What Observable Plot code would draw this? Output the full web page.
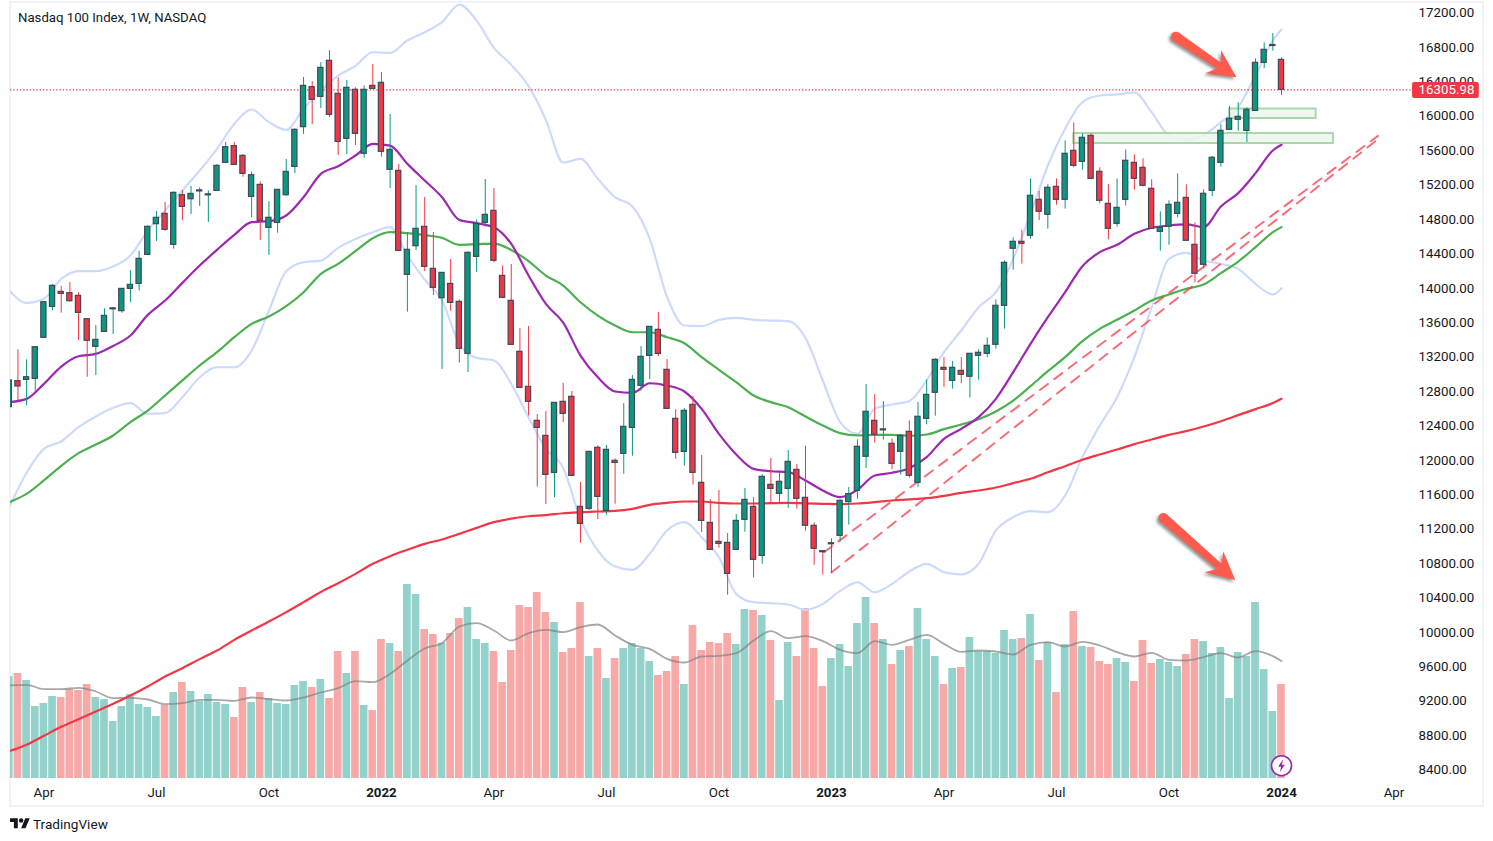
<!DOCTYPE html>
<html>
<head>
<meta charset="utf-8">
<script src="https://cdn.jsdelivr.net/npm/d3@7"></script>
<script src="https://cdn.jsdelivr.net/npm/@observablehq/plot@0.6"></script>
<style>
html,body{margin:0;padding:0;background:#fff;overflow:hidden}
#chart{position:relative;width:1493px;height:841px;font-family:Roboto,"Noto Sans",sans-serif;color:#131722}
#chart svg{position:absolute;left:0;top:0;background:transparent;overflow:visible}
#border{position:absolute;left:9px;top:1px;width:1471px;height:802px;border:2px solid #f0f3fa}
#title{position:absolute;left:18px;top:10px;font-size:13.2px;line-height:16px;white-space:nowrap}
#brand{position:absolute;left:10px;top:815px;height:18px;display:flex;align-items:center;gap:3px;font-size:13.6px;white-space:nowrap}
</style>
</head>
<body>
<div id="chart">
  <div id="border"></div>
  <div id="title">Nasdaq 100 Index, 1W, NASDAQ</div>
  <div id="brand"><svg style="position:static" width="20" height="15.5" viewBox="0 0 36 28"><path d="M14 22H7V11H0V4h14v18zM28 22h-8l7.5-18h8L28 22z" fill="#131722"/><circle cx="20" cy="8" r="4" fill="#131722"/></svg><span>TradingView</span></div>
</div>
<script>
// ---------- Weekly candles (first week 2021-03-08, last week 2024-01-01)
const open = [12618,12920,12935,12947,13424,13784,13958,13943,13912,13641,13319,13493,13755,13734,13993,14051,14388,14745,14865,14505,15082,15035,15126,15080,15132,15458,15652,15539,15063,15202,14702,14760,15082,15411,15873,16338,16225,16644,16260,15737,16307,15563,16353,16388,15377,15365,14156,14489,14714,14226,13885,14051,13842,13237,14365,14760,14900,14144,13854,13261,12854,12459,12284,11854,12680,12738,11459,11436,12145,11412,11994,12075,12377,12866,13214,13517,13052,12482,12098,12645,11738,11273,11052,11040,10959,11308,11459,10889,11715,11610,11668,11889,11564,11239,10944,11024,11122,11514,11645,12041,12459,12348,12192,12099,12331,11738,12482,12785,13075,12924,13040,12971,13215,13238,13343,13796,14459,14540,14610,15028,14854,15179,15028,15598,15470,15772,15354,14982,14749,15028,15458,15400,15156,14656,14714,14865,15051,14505,14273,15133,15458,15842,15958,15830,16062,16621,16816,16655];
const high = [12940,13284,13168,13315,13838,14044,14020,14067,13947,13641,13567,13761,13772,13993,14206,14431,14726,14892,14997,15121,15136,15183,15167,15132,15439,15694,15694,15555,15353,15237,15008,15144,15497,15853,16450,16403,16624,16764,16446,16415,16330,16353,16601,16508,16020,15439,14640,15194,15055,14648,14179,14334,13865,14423,14795,15264,15160,14261,14276,13532,13555,12532,12567,12668,12893,12800,11742,12098,12168,12172,12017,12660,12986,13323,13551,13718,13172,12590,12602,12742,12056,11544,11649,11149,11370,11672,11567,11831,12021,11854,12114,11951,12164,11273,10944,11087,11541,11684,12238,12882,12765,12684,12250,12296,12459,12672,12936,13180,13195,13149,13195,13238,13285,13424,13866,14319,14586,14672,15272,15125,15203,15272,15714,15923,15795,15795,15400,15206,15272,15610,15551,15505,15261,14889,15017,15331,15203,14761,15145,15532,15900,16113,16156,16098,16667,16853,16961,16679];
const low = [12600,12695,12633,12792,13424,13741,13710,13838,13393,12966,12986,13493,13462,13710,13834,13966,14388,14543,14664,14454,14788,14857,14950,14764,15132,15458,15435,15291,14819,14555,14381,14640,15067,15334,15787,15903,16090,15985,15543,15555,15659,15512,16307,15524,15160,14435,13722,14439,14195,13916,13055,13730,13129,13021,14183,14710,14299,13889,13342,12842,12517,11687,11486,11567,12439,11819,11037,11416,11312,11362,11490,11839,12048,12804,12939,13207,12598,12013,11932,11711,11161,10959,10978,10432,10959,11164,10630,10792,11505,11494,11443,11432,11176,10781,10665,10688,11049,11246,11548,11905,12199,12234,11893,11827,11793,11688,12413,12513,12847,12827,12893,12723,12932,13192,13292,13525,14211,14280,14571,14788,14687,14966,14920,15400,15373,15261,14982,14563,14710,14955,15141,15179,14691,14431,14501,14819,14552,14063,14226,15067,15408,15842,15823,15695,16062,16555,16756,16241];
const close = [12928,12858,12966,13315,13838,14028,13935,13850,13714,13389,13400,13679,13767,13993,14040,14342,14714,14819,14679,15109,14946,15097,15138,15092,15423,15640,15435,15330,15315,14784,14819,15144,15353,15842,16353,16190,16562,16016,15702,16330,15795,16307,16318,15586,15609,14435,14447,14691,14249,14005,14179,13830,13296,14412,14749,14853,14319,13889,13342,12842,12680,12377,11831,12668,12540,11819,11261,12098,11575,12122,11970,12389,12935,13203,13551,13237,12598,12087,12575,11854,11296,10959,11029,10680,11296,11540,10843,11808,11668,11750,11982,11552,11239,10971,10932,11036,11529,11607,12157,12564,12296,12360,11959,12285,11820,12506,12761,13168,13052,13075,12994,13238,13250,13331,13796,14296,14540,14517,15075,14889,15168,15028,15563,15423,15749,15272,15017,14691,14935,15482,15272,15191,14691,14703,14970,14993,14552,14168,15098,15517,15830,15970,15993,16075,16621,16772,16828,16305.98];
// Volume in billions of shares
const volume = [3.06,3.15,2.94,2.16,2.25,2.46,2.43,2.67,2.64,2.82,2.43,2.37,1.71,2.16,2.52,2.22,2.13,1.86,2.19,2.58,2.88,2.61,2.31,2.52,2.28,2.22,1.83,2.73,2.28,2.58,2.40,2.25,2.22,2.79,2.91,2.73,2.97,2.40,3.81,3.15,3.81,2.19,2.04,4.17,4.05,3.81,5.82,5.52,4.47,4.32,4.06,4.35,4.80,5.13,4.17,4.05,3.81,2.88,3.84,5.19,5.13,5.58,4.98,4.68,3.78,3.90,5.28,3.66,3.90,3.00,3.60,3.90,4.05,3.90,3.51,3.09,3.21,3.66,2.82,4.59,3.84,4.08,4.05,4.35,4.02,5.07,5.04,4.89,4.14,2.34,4.08,3.66,5.10,3.90,2.76,3.60,4.02,3.36,4.65,5.43,4.65,4.17,3.42,3.84,3.96,5.10,4.17,3.66,2.82,3.30,3.33,4.23,3.81,3.81,3.75,4.44,4.17,4.20,4.92,3.54,4.08,2.58,4.02,5.01,3.96,3.93,3.51,3.42,3.60,3.48,2.91,4.14,3.45,3.57,3.48,3.36,3.72,4.17,4.11,3.75,3.93,2.40,3.78,3.66,5.28,3.27,2.01,2.82];
// Indicator readings, one for every second week plus the last week
const volumeMA = [2.79,2.81,2.68,2.68,2.72,2.61,2.41,2.42,2.37,2.23,2.26,2.36,2.36,2.33,2.43,2.38,2.34,2.43,2.58,2.71,2.92,2.89,3.14,3.54,3.90,4.06,4.56,4.66,4.44,4.14,4.36,4.46,4.39,4.54,4.62,4.29,4.01,3.89,3.59,3.48,3.66,3.68,3.76,4.14,4.42,4.21,4.27,4.12,3.86,3.76,4.12,4.01,4.16,4.31,4.04,3.80,3.84,3.81,3.72,4.01,4.09,3.96,4.10,3.99,3.79,3.66,3.77,3.56,3.54,3.64,3.76,3.63,3.82,3.67,3.52];
const ema20 = [12676,12714,12889,13090,13210,13237,13330,13451,13691,13858,14063,14264,14447,14621,14768,14780,14846,15059,15330,15419,15543,15679,15659,15446,15253,15059,14795,14757,14710,14516,14148,13819,13600,13218,12966,12800,12784,12896,12869,12800,12598,12307,12067,11901,11873,11862,11765,11649,11572,11657,11824,11855,11909,12037,12250,12366,12502,12715,13025,13354,13664,13955,14257,14420,14505,14633,14703,14730,14742,14711,14951,15106,15338,15602,15668];
const ema50 = [11514,11610,11766,11936,12083,12184,12289,12444,12579,12754,12930,13102,13257,13431,13586,13672,13792,13954,14167,14284,14431,14582,14652,14640,14617,14586,14505,14512,14520,14446,14315,14148,14032,13838,13683,13567,13489,13489,13431,13361,13199,13052,12908,12753,12676,12617,12509,12405,12316,12289,12296,12296,12285,12300,12362,12416,12478,12568,12695,12862,13036,13199,13385,13528,13633,13742,13858,13928,13994,14044,14176,14311,14478,14652,14711];
const ema200 = [8619,8693,8797,8902,8991,9080,9169,9266,9371,9487,9584,9689,9789,9913,10022,10126,10235,10351,10470,10572,10680,10797,10886,10960,11029,11080,11145,11215,11281,11323,11350,11362,11385,11397,11405,11412,11436,11482,11505,11521,11521,11505,11498,11498,11502,11505,11500,11494,11490,11498,11514,11533,11545,11560,11587,11622,11649,11684,11735,11785,11862,11932,12006,12068,12126,12188,12242,12296,12339,12393,12455,12525,12595,12665,12715];
const bbUpper = [13974,13830,13877,14109,14199,14199,14253,14381,14671,14904,15136,15369,15621,15911,16078,15931,15841,16086,16299,16473,16585,16744,16737,16880,16977,17093,17298,17112,16795,16597,16349,15958,15462,15504,15272,15059,14950,14574,13900,13567,13559,13633,13656,13633,13625,13617,13420,12928,12444,12308,12599,12649,12688,12928,13257,13509,13780,13955,14342,14865,15427,15854,16164,16241,16253,16276,16047,15776,15729,15783,15931,16105,16473,16880,17008];
const bbLower = [11456,11855,12134,12219,12386,12510,12610,12664,12540,12548,12734,12966,13082,13082,13276,13741,14199,14303,14322,14470,14574,14652,14710,14381,14100,13858,13354,13191,13160,12889,12501,12133,11912,11319,10951,10765,10727,10913,11184,11281,11106,10874,10445,10351,10339,10324,10262,10331,10482,10582,10467,10564,10708,10797,10700,10673,10797,11184,11339,11409,11397,11591,12037,12405,12734,13199,13780,14342,14412,14323,14284,14226,14052,13928,14001];
// Axis labels
const priceTicks = d3.range(8400, 17600, 400);
const monthTicks = ["2021-04-05","2021-07-05","2021-10-04","2022-04-04","2022-07-04","2022-10-03","2023-04-03","2023-07-03","2023-10-02","2024-04-01"];
const yearTicks = ["2022-01-03","2023-01-02","2024-01-01"];
const lastPrice = 16305.98;
// Drawn annotations on the chart, in date and price terms
const zones = [
  {from:"2023-07-17", to:"2024-02-12", top:15799, bottom:15683},
  {from:"2023-11-20", to:"2024-01-29", top:16084, bottom:15974}
];
const trendUpper = [["2022-12-27",10932],["2024-03-19",15772]];
const trendLower = [["2023-01-02",10696],["2024-03-19",15733]];
const arrows = [
  {x1:"2023-10-08", y1:16919, x2:"2023-11-26", y2:16447},
  {x1:"2023-09-28", y1:11323, x2:"2023-11-25", y2:10602}
];

// ---------- Tables
const D = s => new Date(s + "T00:00:00Z");
const firstWeek = D("2021-03-08"), lastWeek = D("2024-01-01");
const weeks = d3.utcMonday.range(firstWeek, d3.utcDay.offset(lastWeek, 1));
const rows = weeks.map((date, i) => ({date, open:open[i], high:high[i], low:low[i], close:close[i], volume:volume[i], up: close[i] >= open[i]}));
const sparseWeeks = [...d3.range(0, 148, 2), 147].map(i => weeks[i]);
const series = values => values.map((v, i) => ({date: sparseWeeks[i], v}));
const ups = rows.filter(d => d.up), downs = rows.filter(d => !d.up);

const GREEN = "#089981", RED = "#f23645", OUT = "#434859";
const VOL_G = "#93d2cb", VOL_R = "#f7a9a8";
const body = 2.1, volBar = 3.1; // half widths in days
const xScale = {type:"utc", domain:[firstWeek, lastWeek], range:[8.8, 1281]};
const frameMargins = {marginLeft:10, marginRight:81, marginTop:3, marginBottom:63};
const font = {fontFamily:"Roboto, 'Noto Sans', sans-serif", fontSize:"13.3px", color:"#131722", background:"transparent"};

// ---------- Volume pane
const volRect = (data, fill) => Plot.rect(data, {
  x1: d => d3.utcHour.offset(d.date, -volBar*24), x2: d => d3.utcHour.offset(d.date, volBar*24),
  y1: 0, y2: "volume", fill, clip:true
});
const volPlot = Plot.plot({
  width:1493, height:841, ...frameMargins, style:font,
  x:{...xScale, axis:null},
  y:{domain:[0,5.82], range:[778,584], axis:null},
  marks:[
    volRect(ups, VOL_G), volRect(downs, VOL_R),
    Plot.line(series(volumeMA), {x:"date", y:"v", stroke:"#7f7f7f", strokeOpacity:.68, strokeWidth:1.8, curve:"monotone-x", clip:true})
  ]
});

// ---------- Arrows with a drop shadow
function arrowMark(items) {
  return (index, {x, y}) => {
    const g = d3.create("svg:g").style("filter","drop-shadow(-1.5px 2px 1.5px rgba(60,60,60,.55))");
    for (const a of items) {
      const p = [x(D(a.x1)), y(a.y1)], q = [x(D(a.x2)), y(a.y2)];
      const L = Math.hypot(q[0]-p[0], q[1]-p[1]);
      const u = [(q[0]-p[0])/L, (q[1]-p[1])/L], n = [-u[1], u[0]];
      const pt = (along, across) => [q[0]+u[0]*along+n[0]*across, q[1]+u[1]*along+n[1]*across];
      const poly = [pt(-L,-5), pt(-21,-3.4), pt(-28,-14), q, pt(-28,14), pt(-21,3.4), pt(-L,5)];
      g.append("path").attr("d", "M" + poly.map(c => c.join(",")).join("L") + "Z").attr("fill","#ff5a4c");
      g.append("circle").attr("cx",p[0]).attr("cy",p[1]).attr("r",5).attr("fill","#ff5a4c");
    }
    return g.node();
  };
}
const bolt = {draw(c){ c.moveTo(1.6,-6.4); c.lineTo(-3.4,1); c.lineTo(-.4,1); c.lineTo(-1.6,6.4); c.lineTo(3.4,-1); c.lineTo(.4,-1); c.closePath(); }};

// ---------- Candle helpers
const bodyRect = (data, fill) => Plot.rect(data, {
  x1: d => d3.utcHour.offset(d.date, -body*24), x2: d => d3.utcHour.offset(d.date, body*24),
  y1:"open", y2:"close", fill, stroke:OUT, strokeWidth:1.2, clip:true
});
const wick = (data, stroke) => Plot.ruleX(data, {x:"date", y1:"low", y2:"high", stroke, strokeWidth:1, clip:true});
const pl = (values, stroke) => Plot.line(series(values), {x:"date", y:"v", stroke, strokeWidth:2.2, curve:"monotone-x", clip:true});
const trend = pts => Plot.line(pts.map(([d,v]) => ({date:D(d), v})), {x:"date", y:"v", stroke:RED, strokeOpacity:.72, strokeWidth:2, strokeDasharray:"10 8"});

// ---------- Price pane
const mainPlot = Plot.plot({
  width:1493, height:841, ...frameMargins, style:font,
  x:xScale,
  y:{domain:[8400,17200], range:[769.5,12.5]},
  marks:[
    pl(bbUpper, "#cddafb"), pl(bbLower, "#cddafb"),
    pl(ema200, RED), pl(ema50, "#4caf50"), pl(ema20, "#9c27b0"),
    trend(trendUpper), trend(trendLower),
    Plot.rect(zones, {x1:d=>D(d.from), x2:d=>D(d.to), y1:"bottom", y2:"top", fill:"#edf6ee", fillOpacity:.85, stroke:"#a8d8ab", strokeWidth:2}),
    Plot.ruleY([lastPrice], {stroke:"#f23645", strokeWidth:1.3, strokeDasharray:"1.3 2"}),
    wick(ups, GREEN), wick(downs, RED),
    bodyRect(ups, GREEN), bodyRect(downs, RED),
    arrowMark(arrows),
    Plot.dot([{date:lastWeek, v:8450}], {x:"date", y:"v", r:10, fill:"#fff", stroke:"#9c27b0", strokeWidth:1.6}),
    Plot.dot([{date:lastWeek, v:8450}], {x:"date", y:"v", symbol:bolt, fill:"#9c27b0", stroke:"none"}),
    Plot.axisY(priceTicks, {anchor:"right", tickSize:0, tickPadding:6, label:null, tickFormat:d3.format(".2f"), fill:"#131722"}),
    Plot.axisX(monthTicks.map(D), {anchor:"bottom", tickSize:0, tickPadding:9, label:null, tickFormat:d3.utcFormat("%b"), fill:"#131722"}),
    Plot.axisX(yearTicks.map(D), {anchor:"bottom", tickSize:0, tickPadding:9, label:null, tickFormat:d3.utcFormat("%Y"), fontWeight:"bold", fill:"#131722"}),
    Plot.rect([lastPrice], {x1:()=>D("2024-04-16"), x2:()=>D("2024-06-09"), y1:()=>16206, y2:()=>16392, fill:RED, rx:2}),
    Plot.text([lastPrice], {x:()=>D("2024-04-16"), y:d=>d, text:d=>d.toFixed(2), fill:"#fff", textAnchor:"start", dx:6})
  ]
});
const root = document.getElementById("chart");
root.insertBefore(volPlot, document.getElementById("title"));
root.insertBefore(mainPlot, document.getElementById("title"));
</script>
</body>
</html>
